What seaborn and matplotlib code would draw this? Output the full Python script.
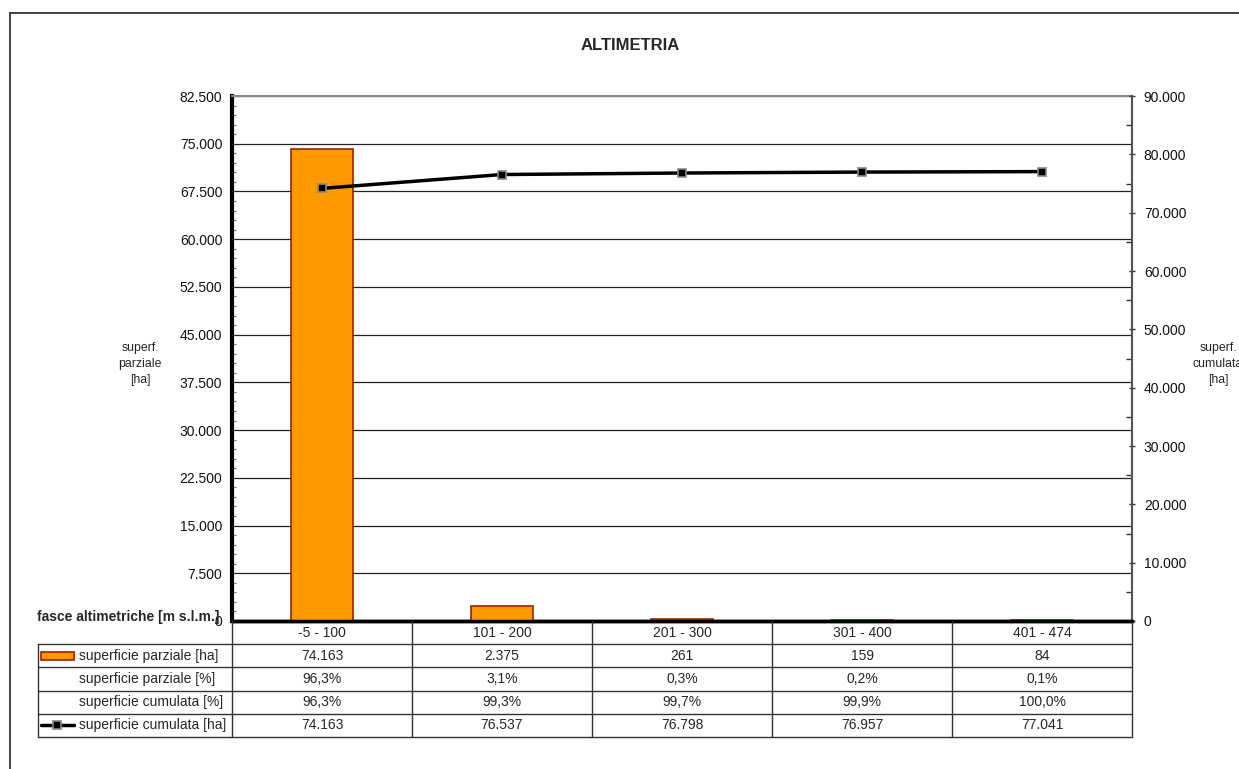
import numpy as np
import pandas as pd
import matplotlib
matplotlib.use("Agg")
import matplotlib.pyplot as plt
from matplotlib.ticker import FuncFormatter, MultipleLocator
from matplotlib.lines import Line2D
from matplotlib.patches import Rectangle
import seaborn as sns

# ---- data ----
categories = ["-5 - 100", "101 - 200", "201 - 300", "301 - 400", "401 - 474"]
sup_parziale_ha = [74163, 2375, 261, 159, 84]
sup_parziale_pct = [96.3, 3.1, 0.3, 0.2, 0.1]
sup_cumulata_pct = [96.3, 99.3, 99.7, 99.9, 100.0]
sup_cumulata_ha = [74163, 76537, 76798, 76957, 77041]
row_labels = ["superficie parziale [ha]", "superficie parziale [%]",
              "superficie cumulata [%]", "superficie cumulata [ha]"]

sns.set_theme(style="white")
plt.rcParams["font.family"] = ["Liberation Sans", "DejaVu Sans"]

W, H = 1239, 769
fig = plt.figure(figsize=(W / 100, H / 100), dpi=100)

def fx(px):
    return px / W

def fy(py):
    return 1 - py / H

FS = 10
L, R, T, B = 232, 1132, 96, 621
ax = fig.add_axes([fx(L), fy(B), fx(R - L), (B - T) / H])

df = pd.DataFrame({"cat": categories, "ha": sup_parziale_ha})

sns.barplot(data=df, x="cat", y="ha", ax=ax, color="#FF9900", saturation=1,
            width=0.34, edgecolor="#9A2200", linewidth=1.2, zorder=3)
ax.set_xlim(-0.5, len(categories) - 0.5)
ax.set_ylim(0, 82500)
ax.yaxis.set_major_locator(MultipleLocator(7500))
thousands = FuncFormatter(lambda v, p: f"{int(round(v)):,}".replace(",", "."))
ax.yaxis.set_major_formatter(thousands)
ax.set_xticks([])
ax.set_xlabel("")
ax.set_ylabel("")
ax.grid(axis="y", color="#222222", linewidth=0.9, zorder=0)
ax.set_axisbelow(True)
ax.tick_params(axis="y", labelsize=FS, length=0, pad=7, colors="#111111")
ax.yaxis.set_minor_locator(MultipleLocator(1500))
ax.tick_params(axis="y", which="minor", length=3, direction="in", color="#777777", width=0.8)
for s in ["top", "right"]:
    ax.spines[s].set_color("#888888")
    ax.spines[s].set_linewidth(1.5)
ax.spines["left"].set_color("black")
ax.spines["left"].set_linewidth(3)
ax.spines["bottom"].set_color("black")
ax.spines["bottom"].set_linewidth(2.5)

ax2 = ax.twinx()
sns.lineplot(data=pd.DataFrame({"pos": np.arange(len(categories)), "cum": sup_cumulata_ha}),
             x="pos", y="cum", ax=ax2, color="black", linewidth=2.5, marker="s",
             markersize=5.5, markerfacecolor="black", markeredgecolor="#888888",
             markeredgewidth=1.2, zorder=5)
ax2.set_xlim(-0.5, len(categories) - 0.5)
ax2.set_ylim(0, 90000)
ax2.yaxis.set_major_locator(MultipleLocator(10000))
ax2.yaxis.set_minor_locator(MultipleLocator(5000))
ax2.yaxis.set_major_formatter(thousands)
ax2.tick_params(axis="y", which="major", labelsize=FS, length=5, direction="inout",
                width=1, color="#333333", pad=6, colors="#111111")
ax2.tick_params(axis="y", which="minor", length=4, direction="in", width=1, color="#333333")
ax2.set_xlabel("")
ax2.set_ylabel("")
for s in ["top", "left", "bottom"]:
    ax2.spines[s].set_visible(False)
ax2.spines["right"].set_color("#555555")
ax2.spines["right"].set_linewidth(1.5)

# axis titles
fig.text(fx(140), fy(364), "superf.\nparziale\n[ha]", ha="center", va="center",
         fontsize=8.8, linespacing=1.4)
fig.text(fx(1218), fy(364), "superf.\ncumulata\n[ha]", ha="center", va="center",
         fontsize=8.8, linespacing=1.4)
fig.text(fx(630), fy(45), "ALTIMETRIA", ha="center", va="center", fontsize=12,
         fontweight="bold")
fig.text(fx(219), fy(617), "fasce altimetriche [m s.l.m.]", ha="right", va="center",
         fontsize=FS, fontweight="bold")

# ---- data table ----
TL, TT, TB = 38, 621, 737
units_per_px = len(categories) / (R - L)
tab = fig.add_axes([fx(TL), fy(TB), fx(R - TL), (TB - TT) / H])
nrows = 1 + len(row_labels)
x_left = -0.5 - (L - TL) * units_per_px
tab.set_xlim(x_left, len(categories) - 0.5)
tab.set_ylim(nrows, 0)
tab.axis("off")
lc = "#333333"
tab.plot([-0.5, len(categories) - 0.5], [0, 0], color="black", lw=2.5, clip_on=False)
for r in range(1, nrows + 1):
    tab.plot([x_left, len(categories) - 0.5], [r, r], color=lc, lw=1, clip_on=False)
for c in range(len(categories) + 1):
    tab.plot([c - 0.5, c - 0.5], [0, nrows], color=lc, lw=1, clip_on=False)
tab.plot([x_left, x_left], [1, nrows], color=lc, lw=1, clip_on=False)

fmt_int = lambda v: f"{int(v):,}".replace(",", ".")
fmt_pct = lambda v: f"{v:.1f}%".replace(".", ",")
rows = [
    [fmt_int(v) for v in sup_parziale_ha],
    [fmt_pct(v) for v in sup_parziale_pct],
    [fmt_pct(v) for v in sup_cumulata_pct],
    [fmt_int(v) for v in sup_cumulata_ha],
]
for c, cat in enumerate(categories):
    tab.text(c, 0.5, cat, ha="center", va="center", fontsize=FS)
for r, vals in enumerate(rows):
    for c, v in enumerate(vals):
        tab.text(c, r + 1.5, v, ha="center", va="center", fontsize=FS)
    tab.text(x_left + 41 * units_per_px, r + 1.5, row_labels[r], ha="left", va="center",
             fontsize=FS)

# legend keys
kx0 = x_left + 3 * units_per_px
kx1 = x_left + 36 * units_per_px
tab.add_patch(Rectangle((kx0, 1.5 - 0.17), kx1 - kx0, 0.34, facecolor="#FF9900",
                        edgecolor="#9A2200", lw=1.2, clip_on=False))
tab.plot([kx0, kx1], [4.5, 4.5], color="black", lw=2.5, clip_on=False)
tab.plot([(kx0 + kx1) / 2], [4.5], marker="s", markersize=5.5, color="black",
         markeredgecolor="#888888", markeredgewidth=1.2, clip_on=False)

# figure border
fig.add_artist(Line2D([fx(10), 1], [fy(13), fy(13)], color="#222222", lw=1.2))
fig.add_artist(Line2D([fx(10), fx(10)], [0, fy(13)], color="#222222", lw=1.2))

fig.savefig("out.png", dpi=100, facecolor="white")
